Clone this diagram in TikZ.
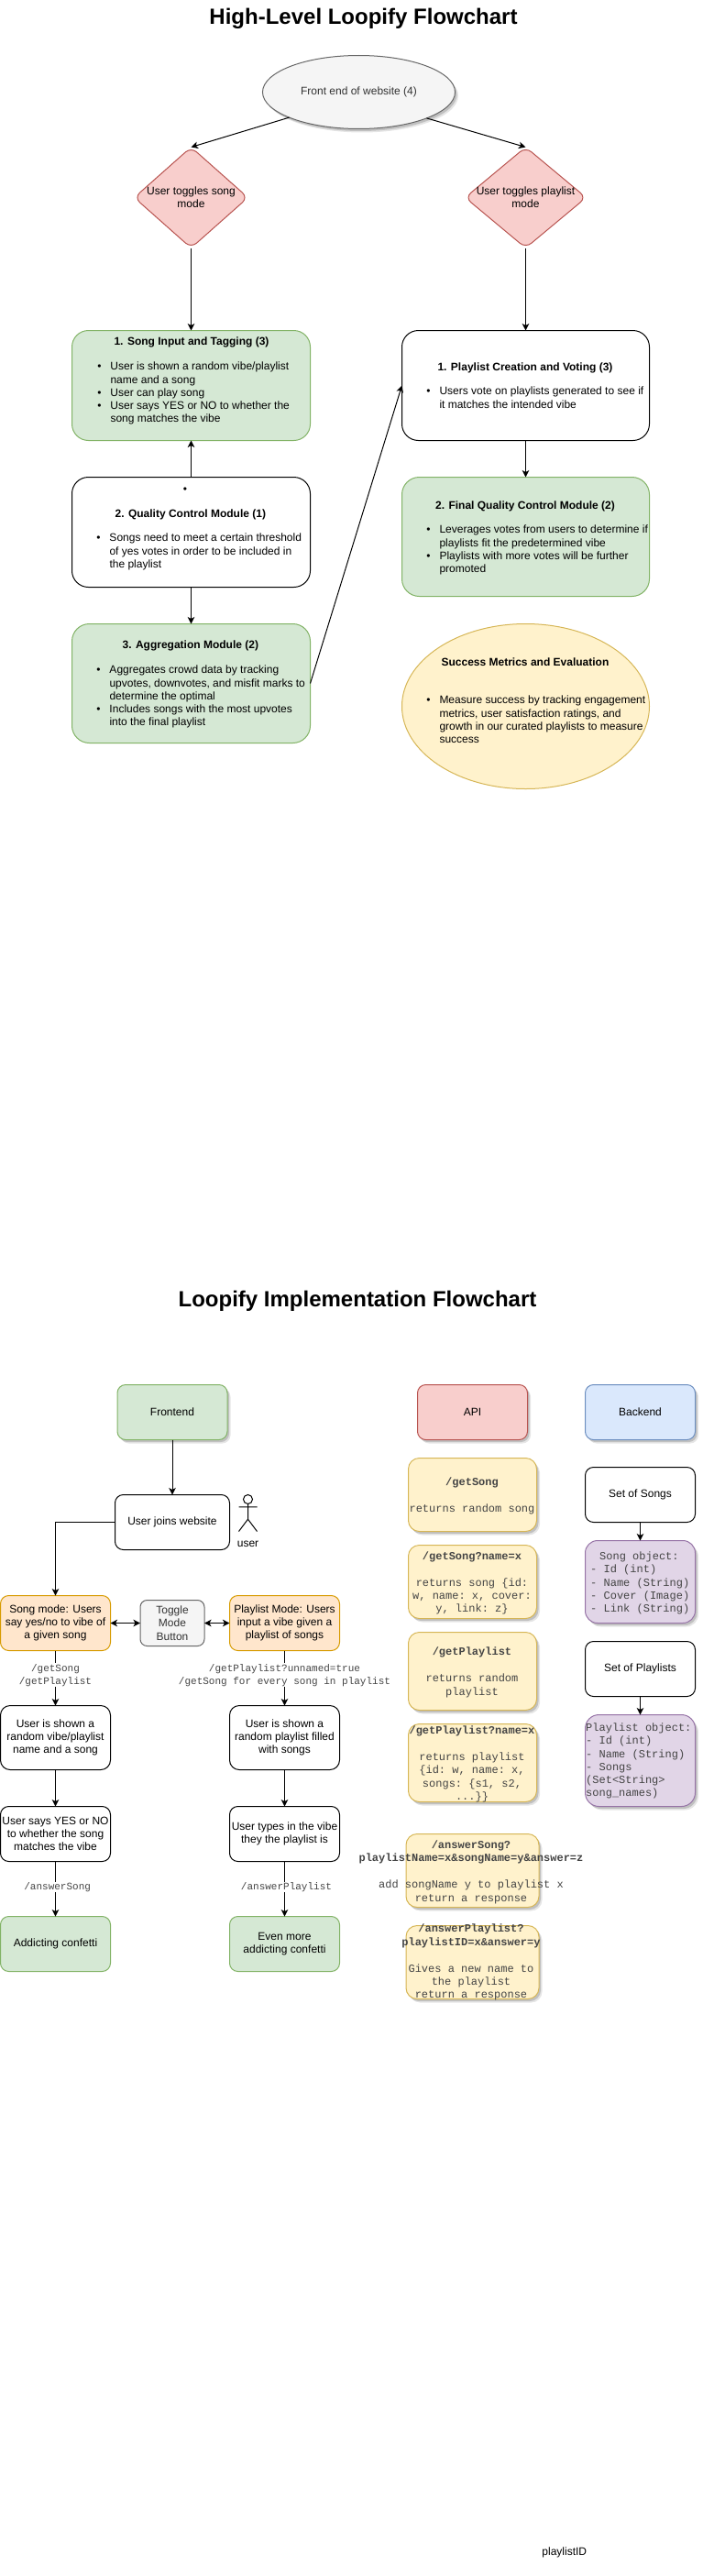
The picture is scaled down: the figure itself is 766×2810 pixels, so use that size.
\documentclass[tikz,border=0pt]{standalone}
\usepackage{fontspec}
\setmainfont{Liberation Sans}
\setmonofont{Liberation Mono}
\usetikzlibrary{arrows.meta,shapes.geometric,shadows}
\definecolor{grF}{HTML}{D5E8D4}\definecolor{grS}{HTML}{82B366}
\definecolor{yeF}{HTML}{FFF2CC}\definecolor{yeS}{HTML}{D6B656}
\definecolor{reF}{HTML}{F8CECC}\definecolor{reS}{HTML}{B85450}
\definecolor{blF}{HTML}{DAE8FC}\definecolor{blS}{HTML}{6C8EBF}
\definecolor{puF}{HTML}{E1D5E7}\definecolor{puS}{HTML}{9673A6}
\definecolor{orF}{HTML}{FFE6CC}\definecolor{orS}{HTML}{D79B00}
\definecolor{gyF}{HTML}{F5F5F5}\definecolor{gyS}{HTML}{666666}
\definecolor{gyT}{HTML}{333333}\definecolor{monoT}{HTML}{444444}
\newcommand\T{\rule{0pt}{9pt}}
\newcommand\B{\llap{\textbullet\hspace{10pt}}}
\tikzset{
  x=1pt,y=-1pt,
  rb/.style n args={3}{rectangle,minimum width=#1pt,minimum height=#2pt,rounded corners=#3pt,inner sep=0pt,outer sep=0pt,anchor=north west,align=center,draw,line width=1pt,font=\fontsize{12}{14.3}\selectfont},
  sh/.style={drop shadow={shadow xshift=3.5pt,shadow yshift=-4pt,fill=black,opacity=.1},drop shadow={shadow xshift=2pt,shadow yshift=-2.5pt,fill=black,opacity=.16}},
  green/.style={fill=grF,draw=grS},
  yell/.style={fill=yeF,draw=yeS},
  redb/.style={fill=reF,draw=reS},
  blue/.style={fill=blF,draw=blS},
  purp/.style={fill=puF,draw=puS},
  oran/.style={fill=orF,draw=orS},
  conn/.style={draw=black,line width=1pt,-{Stealth[length=7.5pt,width=7.5pt,inset=2pt]}},
  biconn/.style={draw=black,line width=1pt,{Stealth[length=7.5pt,width=7.5pt,inset=2pt]}-{Stealth[length=7.5pt,width=7.5pt,inset=2pt]}},
  diam/.style={diamond,minimum width=#1pt,minimum height=110pt,inner sep=0pt,outer sep=0pt,rounded corners=8pt,fill=reF,draw=reS,line width=1pt,font=\fontsize{12}{14.3}\selectfont},
  ttl/.style={font=\fontsize{24}{28}\selectfont\bfseries,inner sep=0pt},
  hd/.style={anchor=north,inner sep=0pt,font=\fontsize{12}{14.3}\selectfont\bfseries},
  bl/.style={anchor=north west,align=left,inner sep=0pt,font=\fontsize{12}{14.3}\selectfont},
  mt/.style={anchor=north,align=center,inner sep=0pt,text=monoT,font=\ttfamily\fontsize{12}{14.3}\selectfont},
  ml/.style={anchor=north west,align=left,inner sep=0pt,text=monoT,font=\ttfamily\fontsize{12}{14.3}\selectfont},
  el/.style={anchor=north,align=center,inner sep=0pt,fill=white,text=monoT,font=\ttfamily\fontsize{11}{14.2}\selectfont},
  pl/.style={inner sep=0pt,font=\fontsize{12}{14.3}\selectfont},
}
\begin{document}
\begin{tikzpicture}
\useasboundingbox (0,0) rectangle (766,2810);
\begin{scope}[yshift=-0.5pt]
% ---- high level
\node[ttl] (title1) at (396.5,20) {High-Level Loopify Flowchart};
\node[ellipse,minimum width=210pt,minimum height=80pt,inner sep=0pt,outer sep=0pt,draw=gyS,fill=gyF,line width=1pt,text=gyT,sh,font=\fontsize{12}{14.3}\selectfont] (front) at (391.5,100) {Front end of website (4)};
\node[diam=124,label={[pl,align=center]center:User toggles song\\mode}] (dsong) at (208.5,215) {};
\node[diam=132,label={[pl,align=center]center:User toggles playlist\\mode}] (dlist) at (573.5,215) {};
\node[rb={260}{120}{18},green] (song) at (78.5,360) {};
\node[rb={260}{120}{18}] (qc) at (78.5,520) {};
\node[rb={260}{130}{19},green] (agg) at (78.5,680) {};
\node[rb={270}{120}{18}] (plc) at (438.5,360) {};
\node[rb={270}{130}{19},green] (fqc) at (438.5,520) {};
\node[ellipse,minimum width=270pt,minimum height=180pt,inner sep=0pt,outer sep=0pt,fill=yeF,draw=yeS,line width=1pt] (succ) at (573.5,770) {};
\node[hd] (songT) at (209,367) {1. Song Input and Tagging (3)};
\node[bl] (songB) at (120.3,394) {\T\B User is shown a random vibe/playlist\\name and a song\\\B User can play song\\\B User says YES or NO to whether the\\song matches the vibe};
\node[pl] (qcDot) at (202,534) {\textbullet};
\node[hd] (qcT) at (207.8,555) {2. Quality Control Module (1)};
\node[bl] (qcB) at (119.3,581) {\T\B Songs need to meet a certain threshold\\of yes votes in order to be included in\\the playlist};
\node[hd] (aggT) at (207.8,698) {3. Aggregation Module (2)};
\node[bl] (aggB) at (119.3,725) {\T\B Aggregates crowd data by tracking\\upvotes, downvotes, and misfit marks to\\determine the optimal\\\B Includes songs with the most upvotes\\into the final playlist};
\node[hd] (plcT) at (573,395) {1. Playlist Creation and Voting (3)};
\node[bl] (plcB) at (479.3,421) {\T\B Users vote on playlists generated to see if\\it matches the intended vibe};
\node[hd] (fqcT) at (573,546) {2. Final Quality Control Module (2)};
\node[bl] (fqcB) at (479.3,572) {\T\B Leverages votes from users to determine if\\playlists fit the predetermined vibe\\\B Playlists with more votes will be further\\promoted};
\node[hd] (succT) at (573,717) {Success Metrics and Evaluation};
\node[bl] (succB) at (479.3,758) {\T\B Measure success by tracking engagement\\metrics, user satisfaction ratings, and\\growth in our curated playlists to measure\\success};
\draw[conn] (front.200.8) -- (dsong.north);
\draw[conn] (front.339.4) -- (dlist.north);
\draw[conn] (dsong.south) -- (song.north);
\draw[conn] (dlist.south) -- (plc.north);
\draw[conn] (qc.north) -- (song.south);
\draw[conn] (qc.south) -- (agg.north);
\draw[conn] (plc.south) -- (fqc.north);
\draw[conn] (agg.east) -- (plc.west);
% ---- implementation
\node[ttl] (title2) at (390,1419) {Loopify Implementation Flowchart};
\node[rb={120}{60}{9},green,sh] (fe) at (128,1510) {Frontend};
\node[rb={120}{60}{9},redb,sh] (api) at (455.5,1510) {API};
\node[rb={120}{60}{9},blue,sh] (be) at (638.5,1510) {Backend};
\node[rb={125}{60}{9}] (join) at (125.5,1630) {User joins website};
\draw[line width=1pt] (270.5,1635) circle (5);
\draw[line width=1pt] (260.5,1643.3) -- (280.5,1643.3) (270.5,1640) -- (270.5,1656.7) (260.5,1670) -- (270.5,1656.7) -- (280.5,1670);
\node[pl] (userL) at (270.5,1683.7) {user};
\node[rb={120}{60}{9},oran] (smode) at (0.5,1740) {Song mode: Users\\say yes/no to vibe of\\a given song};
\node[rb={70}{50}{7.5},fill=gyF,draw=gyS,text=gyT] (toggle) at (153,1745) {Toggle\\Mode\\Button};
\node[rb={120}{60}{9},oran] (pmode) at (250.5,1740) {Playlist Mode: Users\\input a vibe given a\\playlist of songs};
\node[rb={120}{70}{10.5}] (s1) at (0.5,1860) {User is shown a\\random vibe/playlist\\name and a song};
\node[rb={120}{70}{10.5}] (p1) at (250.5,1860) {User is shown a\\random playlist filled\\with songs};
\node[rb={120}{60}{9}] (s2) at (0.5,1970) {User says YES or NO\\to whether the song\\matches the vibe};
\node[rb={120}{60}{9}] (p2) at (250.5,1970) {User types in the vibe\\they the playlist is};
\node[rb={120}{60}{9},green] (s3) at (0.5,2090) {Addicting confetti};
\node[rb={120}{60}{9},green] (p3) at (250.5,2090) {Even more\\addicting confetti};
\draw[conn] (fe.south) -- (join.north);
\draw[conn] (join.west) -| (smode.north);
\draw[biconn] (smode.east) -- (toggle.west);
\draw[biconn] (toggle.east) -- (pmode.west);
\draw[conn] (smode.south) -- (s1.north);
\draw[conn] (pmode.south) -- (p1.north);
\draw[conn] (s1.south) -- (s2.north);
\draw[conn] (p1.south) -- (p2.north);
\draw[conn] (s2.south) -- (s3.north);
\draw[conn] (p2.south) -- (p3.north);
\node[el] (l1) at (60.5,1813.7) {\T/getSong\\/getPlaylist};
\node[el] (l2) at (310.5,1813.7) {\T/getPlaylist?unnamed=true\\/getSong for every song in playlist};
\node[el] (l3) at (62.7,2052) {\T/answerSong};
\node[el] (l4) at (312.5,2052) {\T/answerPlaylist};
% api
\node[rb={140}{80}{12},yell,sh] (a1) at (445.5,1590) {};
\node[rb={140}{80}{12},yell,sh] (a2) at (445.5,1685) {};
\node[rb={140}{85}{12},yell,sh] (a3) at (445.5,1780) {};
\node[rb={140}{85}{12},yell,sh] (a4) at (445.5,1880) {};
\node[rb={145}{80}{12},yell,sh] (a5) at (443,2000) {};
\node[rb={145}{80}{12},yell,sh] (a6) at (443,2100) {};
\node[mt] (a1t) at (515,1610.3) {\T\textbf{/getSong}\\[14.8pt]returns random song};
\node[mt] (a2t) at (515,1691.7) {\T\textbf{/getSong?name=x}\\[14.3pt]returns song \{id:\\w, name: x, cover:\\y, link: z\}};
\node[mt] (a3t) at (515,1796) {\T\textbf{/getPlaylist}\\[14.8pt]returns random\\playlist};
\node[mt] (a4t) at (515,1881.7) {\T\textbf{/getPlaylist?name=x}\\[14.8pt]returns playlist\\\{id: w, name: x,\\songs: \{s1, s2,\\...\}\}};
\node[mt] (a5t) at (514,2006.7) {\T\textbf{/answerSong?}\\\textbf{playlistName=x\&songName=y\&answer=z}\\[14.8pt]add songName y to playlist x\\return a response};
\node[mt] (a6t) at (514,2098) {\T\textbf{/answerPlaylist?}\\\textbf{playlistID=x\&answer=y}\\[14.8pt]Gives a new name to\\the playlist\\return a response};
% backend
\node[rb={120}{60}{9}] (b1) at (638.5,1600) {Set of Songs};
\node[rb={120}{90}{13.5},purp,sh] (b2) at (638.5,1680) {};
\node[rb={120}{60}{9}] (b3) at (638.5,1790) {Set of Playlists};
\node[rb={120}{100}{15},purp,sh] (b4) at (638.5,1870) {};
\node[ml] (b2t) at (644,1691.7) {\T\hspace{10pt}Song object:\\- Id (int)\\- Name (String)\\- Cover (Image)\\- Link (String)};
\node[ml] (b4t) at (639,1878.7) {\T Playlist object:\\- Id (int)\\- Name (String)\\- Songs\\(Set<String>\\song\_names)};
\draw[conn] (b1.south) -- (b2.north);
\draw[conn] (b3.south) -- (b4.north);
\node[pl] (pid) at (615.8,2784) {playlistID};
\end{scope}
\end{tikzpicture}
\end{document}
